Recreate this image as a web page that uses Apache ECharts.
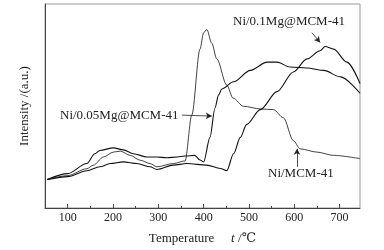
<!DOCTYPE html>
<html>
<head>
<meta charset="utf-8">
<script src="https://cdn.jsdelivr.net/npm/echarts@6/dist/echarts.min.js"></script>
<style>
  html, body { margin: 0; padding: 0; background: #fff; }
  #chart { width: 384px; height: 250px; }
</style>
</head>
<body>
<div id="chart"></div>
<script>
// (temperature in ℃, intensity in arbitrary units)
const tempA = [55, 100, 142, 157, 179, 201, 216, 238, 260, 282, 297, 333, 359, 374, 392, 400, 407, 418, 429, 451, 465, 488, 525, 554, 576, 598, 613, 650, 686, 745];
const valA  = [29, 33, 40, 43.7, 52, 57, 58, 53.7, 48.7, 45.3, 42, 45.3, 48, 95, 162, 178.7, 182, 168, 152, 125.3, 112, 103.7, 101, 100.3, 92, 68.7, 60.3, 57, 53.7, 50.3];

const tempB = [55, 100, 142, 160, 171, 201, 223, 245, 275, 297, 319, 341, 359, 380, 392, 400, 414, 425, 433, 440, 466, 503, 540, 562, 591, 628, 665, 702, 745];
const valB  = [29, 35, 45.3, 55.3, 58.7, 61.3, 59.3, 55.3, 52, 52, 51.3, 52, 53, 53.7, 49, 47, 72, 102, 115.3, 121.3, 128.7, 140.3, 148.7, 148.7, 143.7, 142.7, 140.3, 133.7, 117];

const tempC = [55, 100, 142, 171, 194, 223, 253, 282, 297, 333, 363, 407, 437, 451, 466, 481, 495, 525, 562, 598, 628, 657, 668, 687, 716, 745];
const valC  = [29, 32, 38, 42, 45.3, 47, 45.3, 42, 39.3, 43.7, 45.3, 43.7, 40.3, 38, 55.3, 72, 85.3, 100.3, 118.7, 138.7, 152, 160.3, 164.7, 162, 148.7, 127];

const seriesNames = ['Ni/MCM-41', 'Ni/0.05Mg@MCM-41', 'Ni/0.1Mg@MCM-41'];
const majorTicks = [100, 200, 300, 400, 500, 600, 700];
const minorTicks = [150, 250, 350, 450, 550, 650];

// arrow pointers: [from, to] in data space
const arrowA = [[606, 42], [606, 60.3]];
const arrowB = [[352, 94.7], [418, 93.7]];
const arrowC = [[639, 178.7], [657, 168.7]];

const zip = (xs, ys) => xs.map((x, i) => [x, ys[i]]);
const serif = '"Liberation Serif", "DejaVu Serif", serif';

function makeSeries(name, data, width, arrow) {
    return {
        name: name,
        type: 'line',
        data: data,
        xAxisIndex: 0,
        symbol: 'none',
        smooth: 0.3,
        smoothMonotone: 'x',
        lineStyle: { color: '#111', width: width },
        markLine: {
            silent: true,
            symbol: ['none', 'arrow'],
            symbolSize: [5, 6],
            label: { show: false },
            lineStyle: { color: '#222', width: 0.8, type: 'solid' },
            data: [[{ coord: arrow[0] }, { coord: arrow[1] }]]
        }
    };
}

let option = {
    animation: false,
    backgroundColor: '#fff',
    grid: {
        left: 45, right: 24, top: 4, bottom: 38,
        show: true, borderColor: '#999', borderWidth: 1
    },
    xAxis: [
        {
            type: 'value', min: 50, max: 745,
            axisLine: { show: true, lineStyle: { color: '#444', width: 1 } },
            axisTick: { show: true, inside: true, length: 4, customValues: majorTicks, lineStyle: { color: '#444' } },
            axisLabel: { show: true, customValues: majorTicks, color: '#222', fontFamily: serif, fontSize: 12, margin: 4 },
            splitLine: { show: false },
            name: '{a|Temperature}     {b|t} {a|/℃}',
            nameLocation: 'middle',
            nameGap: 24,
            nameTextStyle: {
                rich: {
                    a: { fontFamily: serif, fontSize: 13, color: '#222' },
                    b: { fontFamily: serif, fontSize: 13, fontStyle: 'italic', color: '#222' }
                }
            }
        },
        {
            type: 'value', min: 50, max: 745, position: 'bottom',
            axisLine: { show: false },
            axisTick: { show: true, inside: true, length: 2, customValues: minorTicks, lineStyle: { color: '#444' } },
            axisLabel: { show: false },
            splitLine: { show: false }
        }
    ],
    yAxis: {
        type: 'value', min: 0, max: 208,
        axisLine: { show: true, lineStyle: { color: '#444', width: 1 } },
        axisTick: { show: false },
        axisLabel: { show: false },
        splitLine: { show: false },
        name: 'Intensity /(a.u.)',
        nameLocation: 'middle',
        nameGap: 14,
        nameTextStyle: { fontFamily: serif, fontSize: 13, color: '#222' }
    },
    graphic: [
        { type: 'text', left: 233, top: 15, style: { text: seriesNames[2], font: '13px ' + serif, fill: '#222' } },
        { type: 'text', left: 60, top: 109, style: { text: seriesNames[1], font: '13px ' + serif, fill: '#222' } },
        { type: 'text', left: 268, top: 167, style: { text: seriesNames[0], font: '13px ' + serif, fill: '#222' } }
    ],
    series: [
        makeSeries(seriesNames[0], zip(tempA, valA), 0.8, arrowA),
        makeSeries(seriesNames[1], zip(tempB, valB), 1.1, arrowB),
        makeSeries(seriesNames[2], zip(tempC, valC), 1.1, arrowC)
    ]
};

let chart = echarts.init(document.getElementById('chart'));
chart.setOption(option);
</script>
</body>
</html>
